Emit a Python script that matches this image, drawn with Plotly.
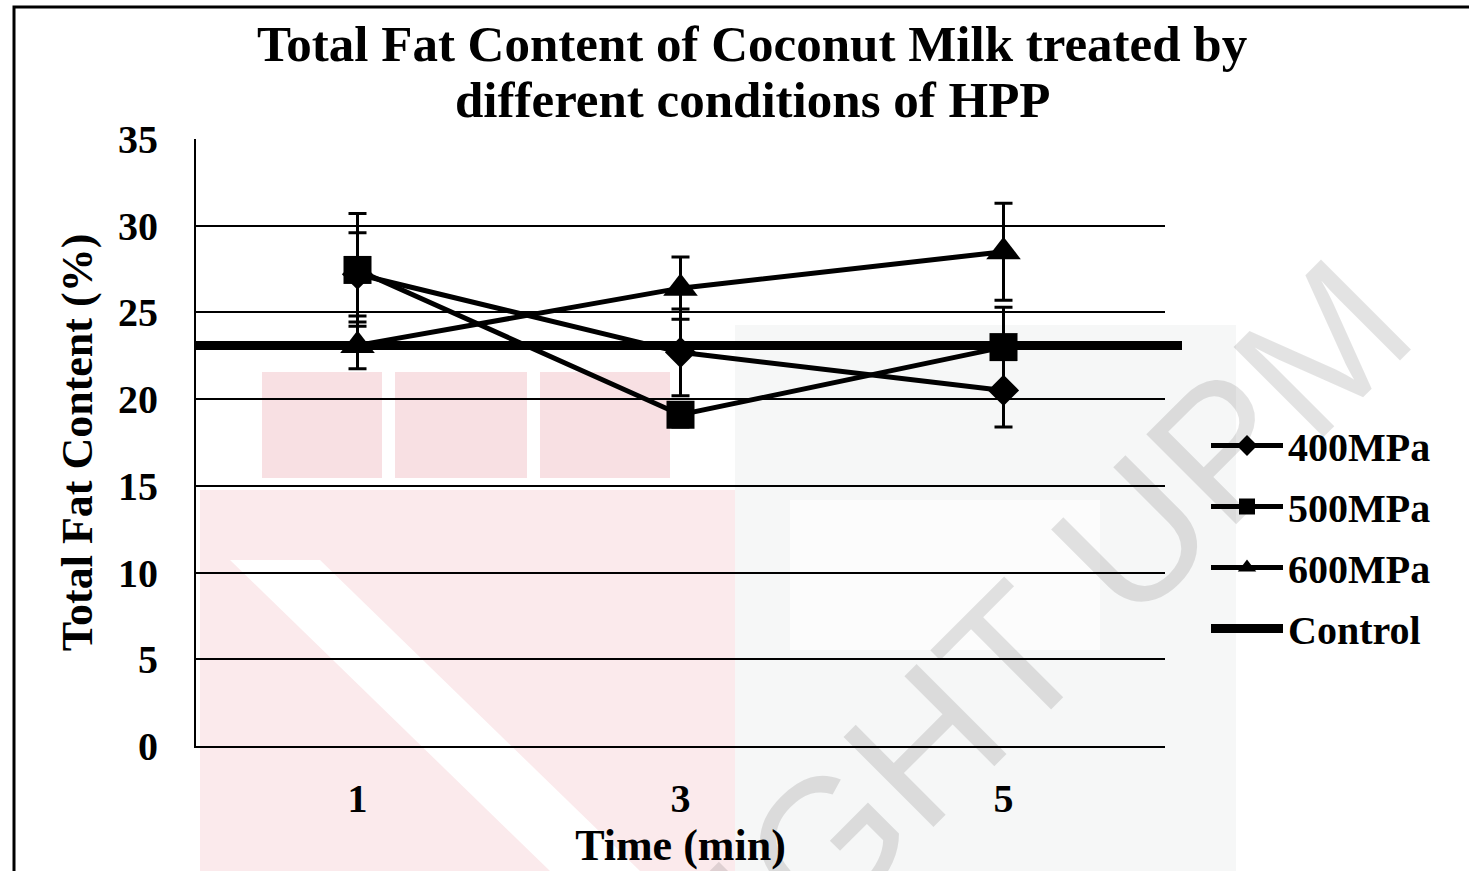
import plotly.graph_objects as go

# Time points (min) and total fat content (%) with standard deviations
TIMES = ["1", "3", "5"]
FAT_400 = [27.2, 22.7, 20.5]
ERR_400 = [2.4, 2.5, 2.1]
FAT_500 = [27.45, 19.1, 23.0]
ERR_500 = [3.25, 0.7, 2.3]
FAT_600 = [23.1, 26.4, 28.5]
ERR_600 = [1.35, 1.8, 2.8]
CONTROL = 23.1

TITLE_LINES = ["Total Fat Content of Coconut Milk treated by",
               "different conditions of HPP"]

SERIF = "Liberation Serif"
W, H = 1469, 871
L, R, T, B = 196, 304, 139, 125
PW, PH = W - L - R, H - T - B


def px_x(x):
    return (x - L) / PW


def px_y(y):
    return (H - B - y) / PH


fig = go.Figure()


def add_series(name, y, err, symbol, size):
    fig.add_trace(go.Scatter(
        x=TIMES, y=y, name=name, mode="lines+markers", legendgroup=name,
        line=dict(color="black", width=5),
        marker=dict(symbol=symbol, size=size, color="black",
                    line=dict(width=0)),
        error_y=dict(type="data", array=err, visible=True,
                     color="black", thickness=3, width=9),
        cliponaxis=False,
    ))


add_series("400MPa", FAT_400, ERR_400, "diamond", 24)
add_series("500MPa", FAT_500, ERR_500, "square", 28)
add_series("600MPa", FAT_600, ERR_600, "triangle-up", 30)

# Control reference level, shown in the legend and as a thick line
fig.add_trace(go.Scatter(
    x=[None], y=[None], name="Control", mode="lines", legendgroup="Control",
    line=dict(color="black", width=9),
))
fig.add_shape(type="line", xref="paper", yref="y",
              x0=0, x1=px_x(1182), y0=CONTROL, y1=CONTROL,
              line=dict(color="black", width=9), layer="above")


# Faint institutional watermark behind the chart
def rect(x0, y0, x1, y1, color):
    fig.add_shape(type="rect", xref="paper", yref="paper",
                  x0=px_x(x0), x1=px_x(x1), y0=px_y(y1), y1=px_y(y0),
                  fillcolor=color, line=dict(width=0), layer="below")


rect(200, 490, 735, 1000, "#fbeaec")
rect(735, 325, 1236, 1000, "#f6f7f7")
rect(790, 500, 1100, 650, "#fcfcfc")
fig.add_shape(type="path", xref="paper", yref="paper", layer="below",
              path="M {:.4f},{:.4f} L {:.4f},{:.4f} L {:.4f},{:.4f} "
                   "L {:.4f},{:.4f} Z".format(
                       px_x(230), px_y(560), px_x(320), px_y(560),
                       px_x(640), px_y(871), px_x(550), px_y(871)),
              fillcolor="white", line=dict(width=0))
for x0, x1 in [(262, 382), (395, 527), (540, 670)]:
    rect(x0, 372, x1, 478, "#f8e0e3")
fig.add_annotation(text="COPYRIGHT UPM", xref="paper", yref="paper",
                   x=px_x(825), y=px_y(845), xanchor="center",
                   yanchor="middle", textangle=-45, showarrow=False,
                   font=dict(family="Liberation Sans", size=185,
                             color="rgba(0,0,0,0.11)"))

# Outer frame of the figure
fig.add_shape(type="rect", xref="paper", yref="paper",
              x0=px_x(14), x1=px_x(1600), y0=px_y(1000), y1=px_y(7),
              line=dict(color="black", width=3), layer="below")

# Two-line chart title
for text, yc in zip(TITLE_LINES, [44, 100]):
    fig.add_annotation(text="<b>" + text + "</b>", xref="paper",
                       yref="paper", x=px_x(752), y=px_y(yc),
                       xanchor="center", yanchor="middle", showarrow=False,
                       font=dict(family=SERIF, size=51, color="black"))

fig.update_layout(
    width=W, height=H,
    margin=dict(l=L, r=R, t=T, b=B, pad=0),
    paper_bgcolor="white", plot_bgcolor="rgba(0,0,0,0)",
    font=dict(family=SERIF, color="black"),
    showlegend=True,
    legend=dict(
        x=px_x(1206), y=px_y(413), xanchor="left", yanchor="top",
        font=dict(family=SERIF, size=40, color="black", weight="bold"),
        bgcolor="rgba(0,0,0,0)", itemwidth=72, tracegroupgap=6,
    ),
)

fig.update_xaxes(
    type="category", range=[-0.5, 2.5], automargin=False,
    showgrid=False, showline=True, linecolor="black", linewidth=2,
    ticks="", ticklabelstandoff=16,
    tickfont=dict(family=SERIF, size=40, color="black", weight="bold"),
    title=dict(text="<b>Time (min)</b>", standoff=4,
               font=dict(family=SERIF, size=44, color="black")),
)
fig.update_yaxes(
    range=[0, 35], dtick=5, automargin=False,
    showgrid=True, gridcolor="black", gridwidth=2,
    showline=True, linecolor="black", linewidth=2,
    zeroline=False, ticks="", ticklabelstandoff=28,
    tickfont=dict(family=SERIF, size=40, color="black", weight="bold"),
    title=dict(text="<b>Total Fat Content (%)</b>", standoff=12,
               font=dict(family=SERIF, size=44, color="black")),
)

fig.write_html("out.html")
